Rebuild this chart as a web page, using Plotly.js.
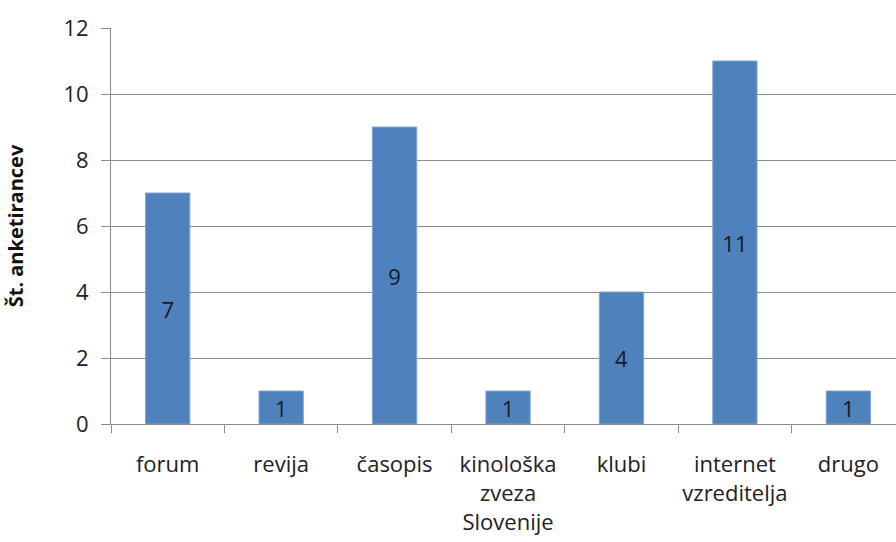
<!DOCTYPE html>
<html>
<head>
<meta charset="utf-8">
<script src="https://cdn.plot.ly/plotly-3.0.1.min.js"></script>
<style>html,body{margin:0;padding:0;overflow:hidden;background:#fff}</style>
</head>
<body>
<div id="chart" style="width:896px;height:542px"></div>
<script>
const categories = ["forum", "revija", "časopis", "kinološka<br>zveza<br>Slovenije", "klubi", "internet<br>vzreditelja", "drugo"];
const values = [7, 1, 9, 1, 4, 11, 1];
const labels = values.map(String);
const yTitle = "Št. anketirancev";

const font = "Open Sans, DejaVu Sans, sans-serif";

Plotly.newPlot("chart", [{
  type: "bar",
  x: categories,
  y: values,
  text: labels,
  textposition: "inside",
  insidetextanchor: "middle",
  textangle: 0,
  constraintext: "none",
  textfont: {family: font, size: 22, color: "#1a1a1a"},
  marker: {color: "#4F81BD", line: {color: "#7ea3d6", width: 1}},
  hoverinfo: "none"
}], {
  width: 896,
  height: 542,
  margin: {l: 111, r: 0, t: 28, b: 118},
  bargap: 0.61,
  paper_bgcolor: "#fff",
  plot_bgcolor: "#fff",
  showlegend: false,
  font: {family: font, size: 22, color: "#222"},
  xaxis: {
    type: "category",
    range: [-0.5, 6.42],
    showline: true,
    linecolor: "#8c8c8c",
    linewidth: 1,
    ticks: "outside",
    tickson: "boundaries",
    ticklen: 8,
    tickcolor: "#8c8c8c",
    tickangle: 0,
    tickfont: {family: font, size: 22, color: "#222"},
    ticklabelstandoff: 21,
    showgrid: false,
    fixedrange: true
  },
  yaxis: {
    range: [0, 12],
    dtick: 2,
    showline: true,
    linecolor: "#8c8c8c",
    linewidth: 1,
    ticks: "outside",
    ticklen: 9,
    tickcolor: "#8c8c8c",
    showgrid: true,
    gridcolor: "#8c8c8c",
    gridwidth: 1,
    zeroline: false,
    tickfont: {family: font, size: 22, color: "#222"},
    ticklabelstandoff: 8,
    title: {text: yTitle, font: {family: font, size: 20, color: "#111", weight: "bold"}, standoff: 34},
    automargin: false,
    fixedrange: true
  }
}, {displayModeBar: false, staticPlot: true});
</script>
</body>
</html>
